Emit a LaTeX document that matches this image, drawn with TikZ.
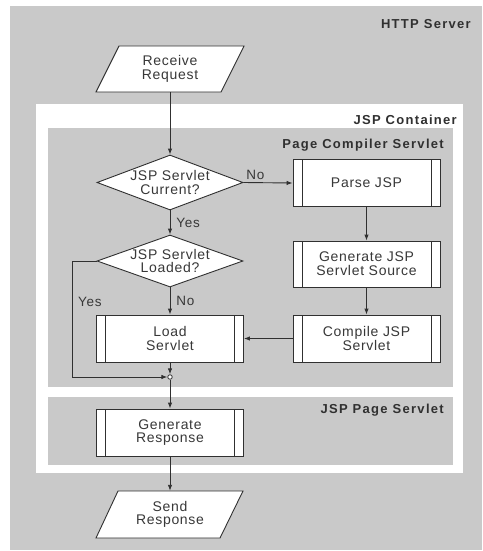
\documentclass[tikz,border=0pt]{standalone}
\usepackage{fontspec}
\setmainfont{Liberation Sans}
\newfontfamily\nodefont[LetterSpace=5]{Liberation Sans}
\newfontfamily\titlefont[LetterSpace=10]{Liberation Sans}
\usetikzlibrary{arrows.meta,shapes.geometric,calc}

\definecolor{panel}{HTML}{C9C9C9}
\definecolor{ink}{HTML}{303030}
\definecolor{txt}{HTML}{383838}

\tikzset{
  ntext/.style={font=\nodefont\fontsize{14}{13.7}\selectfont, text=txt, align=center, inner sep=0pt},
  title/.style={font=\titlefont\bfseries\fontsize{13}{14}\selectfont, text=ink, inner sep=0pt, anchor=base east},
  iobox/.style={draw=ink, fill=white, line width=0.9pt, line join=miter},
  process/.style={ntext, draw=ink, fill=white, line width=0.9pt,
    minimum width=147pt, minimum height=47pt,
    path picture={
      \draw[ink, line width=0.9pt]
        ([xshift=9pt]path picture bounding box.north west) -- ([xshift=9pt]path picture bounding box.south west)
        ([xshift=-9pt]path picture bounding box.north east) -- ([xshift=-9pt]path picture bounding box.south east);
    }},
  decision/.style={shape=diamond, draw=ink, fill=white, line width=0.9pt,
    minimum width=146pt, minimum height=55pt, inner sep=0pt},
  flow/.style={draw=ink, line width=0.9pt, -{Latex[length=6pt,width=4.5pt]}},
  lab/.style={font=\nodefont\fontsize{13.5}{14}\selectfont, text=txt, inner sep=0pt}
}

\begin{document}
\begin{tikzpicture}[x=1pt,y=-1pt]
\useasboundingbox (0,0) rectangle (482,551);
\fill[white] (0,0) rectangle (482,551);

% nested containers
\fill[panel] (10,6) rectangle (482,550);
\fill[white] (36,104) rectangle (463,473);
\fill[panel] (48,128) rectangle (453,387);
\fill[panel] (48,397) rectangle (453,465);

\node[title] (http) at (471,29) {HTTP Server};
\node[title] (jspc) at (457,124) {JSP Container};
\node[title] (pcs)  at (444,148.5) {Page Compiler Servlet};
\node[title] (jps)  at (444,413) {JSP Page Servlet};

% input / output parallelograms
\filldraw[iobox] (96,92) -- (119,46) -- (244,46) -- (221,92) -- cycle;
\node[ntext, minimum width=125pt, minimum height=46pt] (rr) at (170,69) {Receive\\Request};
\filldraw[iobox] (96,538) -- (118,491) -- (243,491) -- (220,538) -- cycle;
\node[ntext, minimum width=125pt, minimum height=47pt] (sr) at (170,514.5) {Send\\Response};

% decisions
\node[decision, label={[ntext]center:{JSP Servlet\\Current?}}] (dc) at (170,182.5) {};
\node[decision, minimum height=52pt, label={[ntext]center:{JSP Servlet\\Loaded?}}] (dl) at (170,261) {};

% processes
\node[process] (pj) at (366.5,183) {Parse JSP};
\node[process, minimum height=46pt] (gs) at (366.5,264) {Generate JSP\\Servlet Source};
\node[process] (cj) at (366.5,338.5) {Compile JSP\\Servlet};
\node[process] (ls) at (170,338.5) {Load\\Servlet};
\node[process] (gr) at (170,432.5) {Generate\\Response};

% junction
\node[circle, draw=ink, fill=white, line width=0.8pt, inner sep=0pt, minimum size=4.5pt] (jn) at (170,377) {};
\coordinate (bend1) at (72,261);
\coordinate (bend2) at (72,377);

% connectors
\draw[flow] (rr.south) -- (dc.north);
\draw[flow] (dc.east) -- node[lab, anchor=south west, pos=0.05, yshift=2pt] (no1) {No} (pj.west);
\draw[flow] (dc.south) -- node[lab, anchor=west, xshift=6pt] (yes1) {Yes} (dl.north);
\draw[flow] (dl.south) -- node[lab, anchor=west, xshift=6pt] (no2) {No} (ls.north);
\draw[flow] (dl.west) -- (bend1) -- (bend2) -- (jn.west);
\node[lab, anchor=west] (yes2) at (78,302) {Yes};
\draw[flow] (pj.south) -- (gs.north);
\draw[flow] (gs.south) -- (cj.north);
\draw[flow] (cj.west) -- (ls.east);
\draw[flow] (ls.south) -- (jn.north);
\draw[flow] (jn.south) -- (gr.north);
\draw[flow] (gr.south) -- (sr.north);
\end{tikzpicture}
\end{document}
